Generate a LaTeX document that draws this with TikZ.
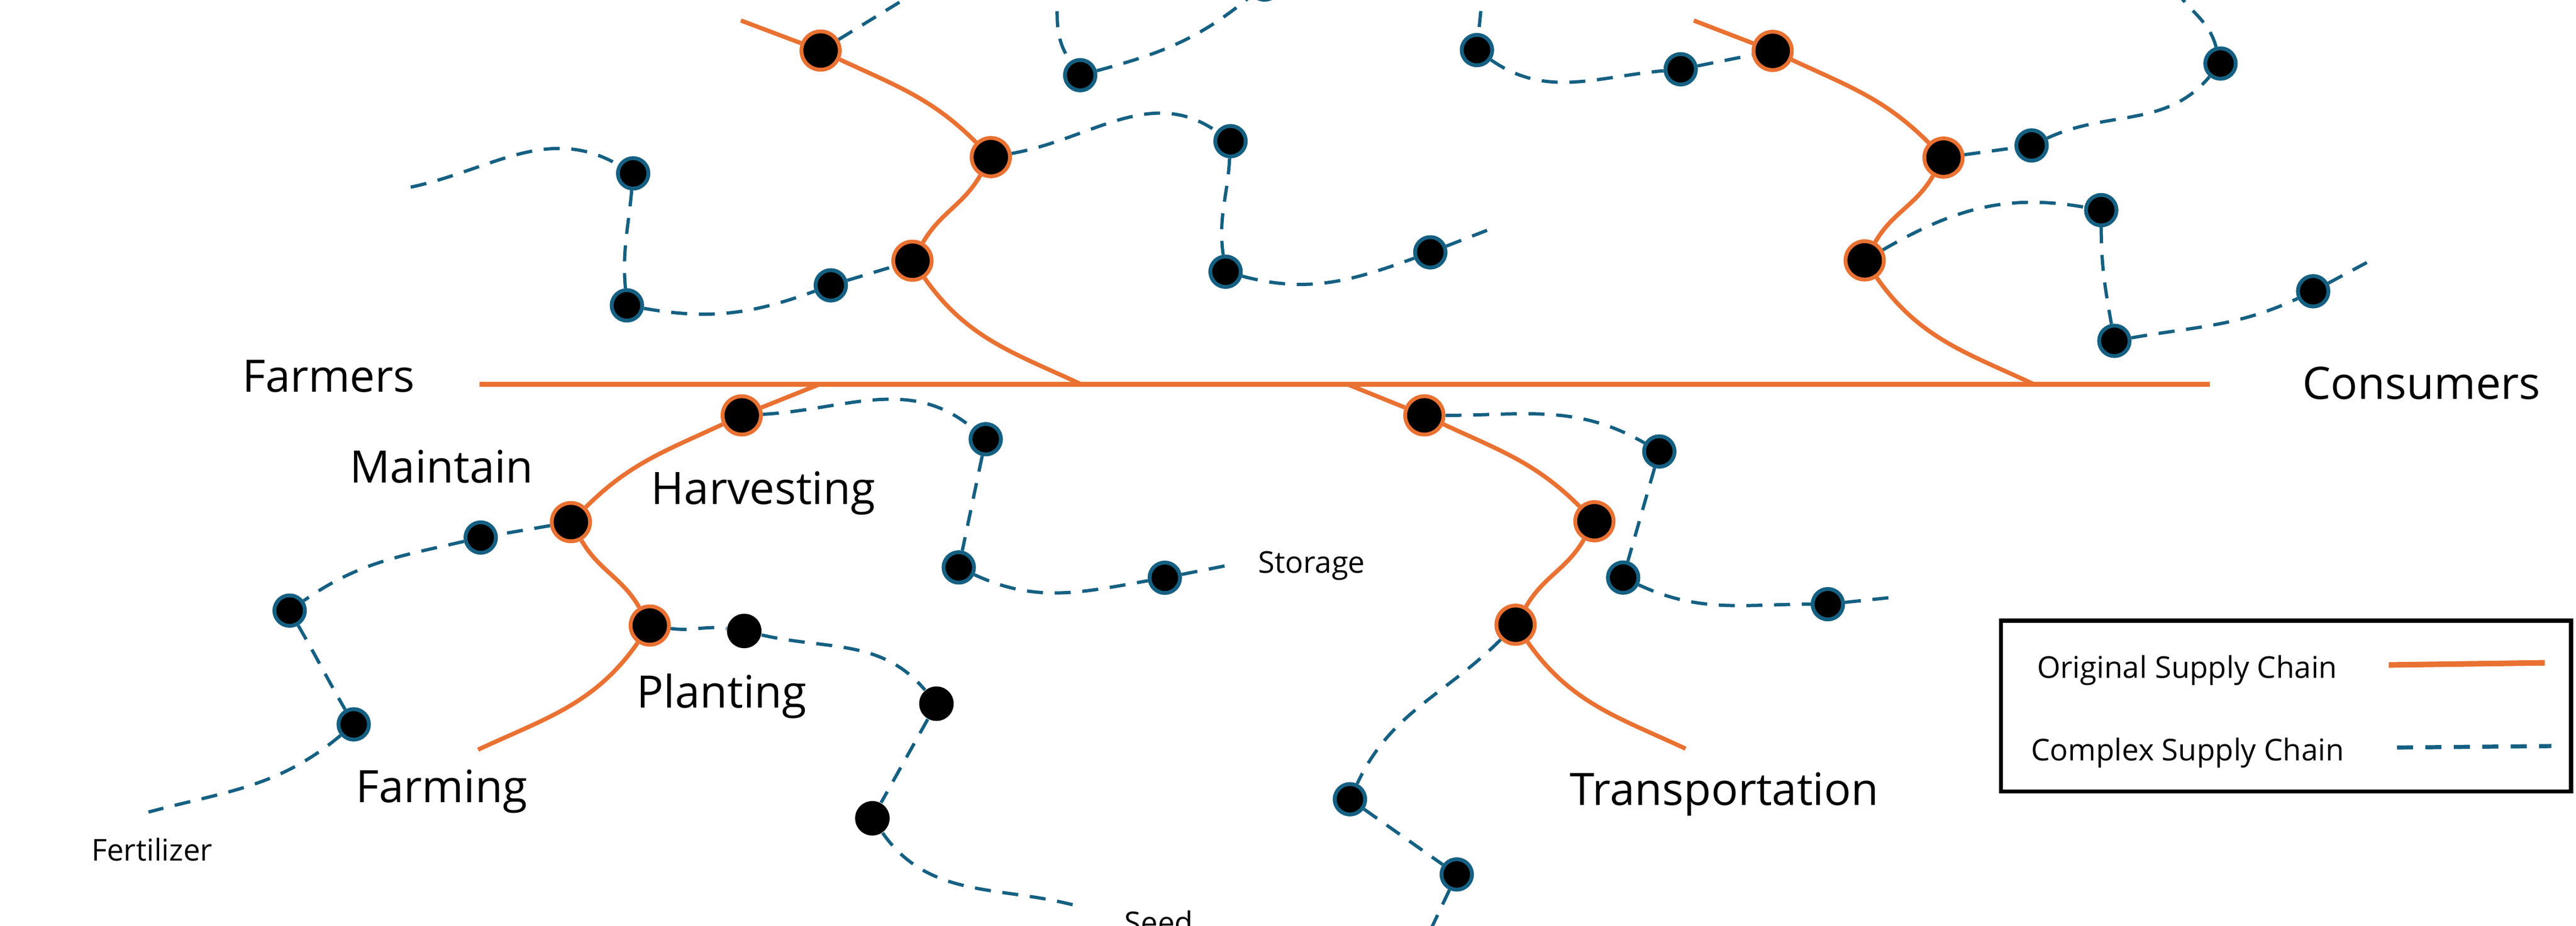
\documentclass[tikz,border=0pt]{standalone}
\usepackage{fontspec}
\setmainfont{Open Sans}
\definecolor{chainorange}{HTML}{E97132}
\definecolor{chainblue}{HTML}{156082}
\tikzset{
	orignode/.style={circle, draw=chainorange, fill=black, line width=0.47mm, minimum size=4.67mm, inner sep=0pt},
	cpxnode/.style={circle, draw=chainblue, fill=black, line width=0.47mm, minimum size=3.71mm, inner sep=0pt},
	plainnode/.style={circle, fill=black, minimum size=4.2mm, inner sep=0pt},
	origline/.style={draw=chainorange, line width=0.52mm},
	cpxline/.style={draw=chainblue, line width=0.4mm, dash pattern=on 1.95mm off 1.42mm},
	biglabel/.style={font=\fontsize{15.5pt}{18pt}\selectfont, inner sep=0pt, anchor=base},
	smalllabel/.style={font=\fontsize{10.4pt}{12pt}\selectfont, inner sep=0pt, anchor=base},
}
\begin{document}
\begin{tikzpicture}[x=0.2mm, y=0.2mm]
		\useasboundingbox (0,0) rectangle (1568,-563.7);
		\clip (0,0) rectangle (1568,-563.7);

		\node[biglabel] (farmers) at (200,-238.7) {Farmers};
		\node[biglabel] (consumers) at (1474,-243) {Consumers};
		\node[biglabel] (maintain) at (268.8,-294) {Maintain};
		\node[biglabel] (harvesting) at (464.6,-307) {Harvesting};
		\node[biglabel] (planting) at (439.3,-431.2) {Planting};
		\node[biglabel] (farming) at (268.8,-488.6) {Farming};
		\node[biglabel] (transport) at (1049.6,-490.3) {Transportation};
		\node[smalllabel] (storage) at (798.4,-349) {Storage};
		\node[smalllabel] (fertilizer) at (92.5,-524.3) {Fertilizer};
		\node[smalllabel] (seed) at (705.4,-568.6) {Seed};

		\coordinate (m1) at (292,-234);
		\coordinate (m2) at (1345,-234);
		\coordinate (j1) at (658,-234);
		\coordinate (j2) at (1238,-234);
		\coordinate (j3) at (820,-234);
		\coordinate (j4) at (499,-234);
		\coordinate (s1) at (451,-12.5);
		\coordinate (s2) at (1031,-12.5);
		\coordinate (s3) at (1026,-456);
		\coordinate (s4) at (291,-456.6);

		\node[orignode] (o1) at (499.5,-30.8) {};
		\node[orignode] (o2) at (603.1,-95.7) {};
		\node[orignode] (o3) at (555.4,-158.8) {};
		\node[orignode] (o4) at (1079,-31) {};
		\node[orignode] (o5) at (1183,-96) {};
		\node[orignode] (o6) at (1135,-158.6) {};
		\node[orignode] (o7) at (451.5,-253) {};
		\node[orignode] (o8) at (347.5,-318) {};
		\node[orignode] (o9) at (395.5,-381) {};
		\node[orignode] (o10) at (867,-253) {};
		\node[orignode] (o11) at (970.5,-317.5) {};
		\node[orignode] (o12) at (922.5,-380.5) {};

		\node[cpxnode] (c1) at (385.4,-105.6) {};
		\node[cpxnode] (c2) at (381.6,-186) {};
		\node[cpxnode] (c3) at (505.7,-173.8) {};
		\node[cpxnode] (c4) at (749,-86) {};
		\node[cpxnode] (c5) at (746,-165.5) {};
		\node[cpxnode] (c6) at (870.6,-153.7) {};
		\node[cpxnode] (c7) at (657.5,-45.8) {};
		\node[cpxnode] (c8) at (769.7,9.4) {};
		\node[cpxnode] (c9) at (899,-30.5) {};
		\node[cpxnode] (c10) at (1023,-42.2) {};
		\node[cpxnode] (c11) at (1236.6,-88.6) {};
		\node[cpxnode] (c12) at (1351.6,-38.7) {};
		\node[cpxnode] (c13) at (1279,-128) {};
		\node[cpxnode] (c14) at (1287,-207.6) {};
		\node[cpxnode] (c15) at (1408,-177.4) {};
		\node[cpxnode] (c16) at (600,-267.5) {};
		\node[cpxnode] (c17) at (583.6,-345.6) {};
		\node[cpxnode] (c18) at (709,-351.9) {};
		\node[cpxnode] (c19) at (292.6,-327.4) {};
		\node[cpxnode] (c20) at (176.3,-371.9) {};
		\node[cpxnode] (c21) at (215.3,-441.2) {};
		\node[cpxnode] (c22) at (1010,-275) {};
		\node[cpxnode] (c23) at (988,-351.8) {};
		\node[cpxnode] (c24) at (1112.6,-368) {};
		\node[cpxnode] (c25) at (821.7,-486.8) {};
		\node[cpxnode] (c26) at (886.7,-532.6) {};

		\node[plainnode] (p1) at (453,-384.3) {};
		\node[plainnode] (p2) at (570,-428.6) {};
		\node[plainnode] (p3) at (531,-498.4) {};

		\coordinate (e1) at (250,-114);
		\coordinate (e2) at (566,10);
		\coordinate (e3) at (643.5,10);
		\coordinate (e4) at (910,-138.4);
		\coordinate (e5) at (903,10);
		\coordinate (e6) at (1322,10);
		\coordinate (e7) at (1445.5,-157.3);
		\coordinate (e8) at (750,-343.8);
		\coordinate (e9) at (90.4,-494.6);
		\coordinate (e10) at (655.8,-551.8);
		\coordinate (e11) at (1154,-363.6);
		\coordinate (e12) at (866.7,-575);

		\draw[origline, line width=0.62mm] (m1) -- (m2);
		\draw[origline] (s1) -- (o1);
		\draw[origline] (o1) to[out=-25,in=135] (o2);
		\draw[origline] (o2) to[out=-120,in=60] (o3);
		\draw[origline] (o3) to[out=-55,in=155] (j1);
		\draw[origline] (s2) -- (o4);
		\draw[origline] (o4) to[out=-25,in=135] (o5);
		\draw[origline] (o5) to[out=-120,in=60] (o6);
		\draw[origline] (o6) to[out=-55,in=155] (j2);
		\draw[origline] (j3) -- (o10);
		\draw[origline] (o10) to[out=-25,in=135] (o11);
		\draw[origline] (o11) to[out=-120,in=60] (o12);
		\draw[origline] (o12) to[out=-55,in=155] (s3);
		\draw[origline] (j4) -- (o7);
		\draw[origline] (o7) to[out=-155,in=45] (o8);
		\draw[origline] (o8) to[out=-60,in=120] (o9);
		\draw[origline] (o9) to[out=-125,in=25] (s4);

		\draw[cpxline] (e1) to[out=12,in=150] (c1);
		\draw[cpxline] (c1) to[out=-95,in=95] (c2);
		\draw[cpxline] (c2) to[out=-10,in=-160] (c3);
		\draw[cpxline] (c3) -- (o3);
		\draw[cpxline] (o1) -- (e2);
		\draw[cpxline] (o2) to[out=10,in=145] (c4);
		\draw[cpxline] (c4) to[out=-93,in=98] (c5);
		\draw[cpxline] (c5) to[out=-15,in=-160] (c6);
		\draw[cpxline] (c6) -- (e4);
		\draw[cpxline] (e3) to[out=-88,in=125] (c7);
		\draw[cpxline] (c7) to[out=15,in=-140] (c8);
		\draw[cpxline] (e5) -- (c9);
		\draw[cpxline] (c9) to[out=-35,in=-175] (c10);
		\draw[cpxline] (c10) -- (o4);
		\draw[cpxline] (o5) -- (c11);
		\draw[cpxline] (c11) to[out=25,in=-130] (c12);
		\draw[cpxline] (c12) to[out=105,in=-62] (e6);
		\draw[cpxline] (o6) to[out=30,in=170] (c13);
		\draw[cpxline] (c13) to[out=-90,in=100] (c14);
		\draw[cpxline] (c14) to[out=10,in=-155] (c15);
		\draw[cpxline] (c15) -- (e7);
		\draw[cpxline] (o7) to[out=3,in=140] (c16);
		\draw[cpxline] (c16) -- (c17);
		\draw[cpxline] (c17) to[out=-25,in=-170] (c18);
		\draw[cpxline] (c18) -- (e8);
		\draw[cpxline] (o8) -- (c19);
		\draw[cpxline] (c19) to[out=-167,in=35] (c20);
		\draw[cpxline] (c20) to[out=-60,in=120] (c21);
		\draw[cpxline] (c21) to[out=-140,in=15] (e9);
		\draw[cpxline] (o9) to[out=-8,in=172] (p1);
		\draw[cpxline] (p1) to[out=-13,in=130] (p2);
		\draw[cpxline] (p2) -- (p3);
		\draw[cpxline] (p3) to[out=-55,in=165] (e10);
		\draw[cpxline] (o10) to[out=0,in=150] (c22);
		\draw[cpxline] (c22) -- (c23);
		\draw[cpxline] (c23) to[out=-25,in=180] (c24);
		\draw[cpxline] (c24) -- (e11);
		\draw[cpxline] (o12) to[out=-135,in=65] (c25);
		\draw[cpxline] (c25) -- (c26);
		\draw[cpxline] (c26) -- (e12);

		\draw[line width=0.5mm] (1218,-378) rectangle (1565,-482);
		\node[smalllabel] (origtext) at (1331.3,-413) {Original Supply Chain};
		\node[smalllabel] (cpxtext) at (1331.6,-463.4) {Complex Supply Chain};
		\coordinate (l1) at (1454,-405);
		\coordinate (l2) at (1549,-403.7);
		\coordinate (l3) at (1459,-455.3);
		\coordinate (l4) at (1553,-454.4);
		\draw[origline, line width=0.68mm] (l1) -- (l2);
		\draw[cpxline, line width=0.5mm, dash pattern=on 1.96mm off 1.5mm] (l3) -- (l4);

	\end{tikzpicture}
\end{document}
